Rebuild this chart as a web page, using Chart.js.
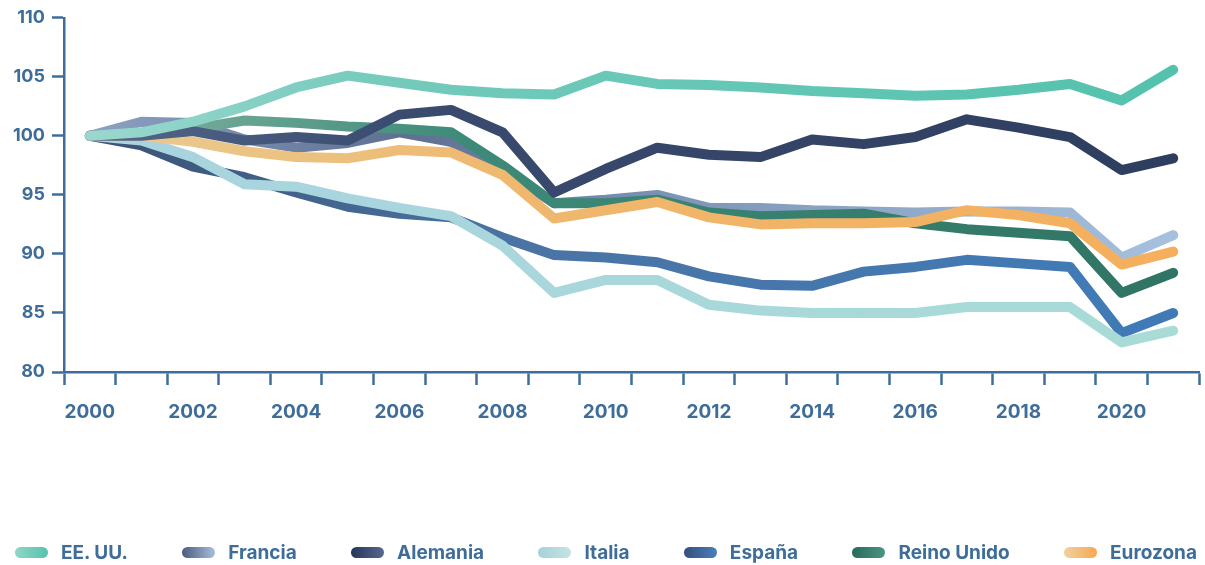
<html>
<head>
	<meta charset="utf-8">
	<title>PIB relativo</title>
	<script src="https://cdn.jsdelivr.net/npm/chart.js@4.4.1/dist/chart.umd.min.js"></script>
	<style>
		body { margin: 0; background: #ffffff; }
		#chart { position: relative; width: 1205px; height: 565px; }
		#leyenda {
			position: absolute; left: 15px; right: 8px; top: 541px; height: 22px;
			display: flex; justify-content: space-between; align-items: center;
			font-family: Inter, "Liberation Sans", Arial, sans-serif;
			font-weight: bold; font-size: 19px; color: #3f6d99;
		}
		.item { display: flex; align-items: center; white-space: nowrap; }
		.muestra { width: 33px; height: 11px; border-radius: 6px; margin-right: 13px; }
	</style>
</head>
<body>
	<div id="chart">
		<canvas id="myChart"></canvas>
		<div id="leyenda"></div>
	</div>

	<script>

		// ---------------------------------------------------------------
		// Datos (base 2000 = 100)
		// ---------------------------------------------------------------
		var anios = ['2000','2001','2002','2003','2004','2005','2006','2007','2008','2009','2010',
			'2011','2012','2013','2014','2015','2016','2017','2018','2019','2020','2021'];

		var nombres = ['EE. UU.', 'Francia', 'Alemania', 'Italia', 'España', 'Reino Unido', 'Eurozona'];

		var eeuu     = [100, 100.3, 101.2, 102.5, 104.1, 105.1, 104.5, 103.9, 103.6, 103.5, 105.1, 104.4, 104.3, 104.1, 103.8, 103.6, 103.4, 103.5, 103.9, 104.4, 103.0, 105.6];
		var francia  = [100, 101.2, 101.1, 99.7, 99.0, 99.4, 100.3, 99.5, 97.1, 94.3, 94.6, 95.0, 93.9, 93.9, 93.7, 93.6, 93.5, 93.6, 93.6, 93.5, 89.7, 91.6];
		var alemania = [100, 100.0, 100.4, 99.6, 99.9, 99.6, 101.8, 102.2, 100.3, 95.2, 97.2, 99.0, 98.4, 98.2, 99.7, 99.3, 99.9, 101.4, 100.7, 99.9, 97.1, 98.1];
		var italia   = [100, 99.6, 98.2, 95.9, 95.7, 94.7, 93.9, 93.2, 90.7, 86.7, 87.8, 87.8, 85.7, 85.2, 85.0, 85.0, 85.0, 85.5, 85.5, 85.5, 82.5, 83.5];
		var espana   = [100, 99.2, 97.4, 96.5, 95.2, 94.0, 93.4, 93.1, 91.4, 89.9, 89.7, 89.3, 88.1, 87.4, 87.3, 88.5, 88.9, 89.5, 89.2, 88.9, 83.3, 85.0];
		var reino    = [100, 100.1, 100.6, 101.3, 101.1, 100.8, 100.6, 100.3, 97.5, 94.3, 94.3, 94.6, 93.5, 93.2, 93.3, 93.4, 92.6, 92.1, 91.8, 91.5, 86.7, 88.4];
		var eurozona = [100, 100.0, 99.5, 98.7, 98.2, 98.1, 98.8, 98.6, 96.7, 93.0, 93.7, 94.4, 93.1, 92.5, 92.6, 92.6, 92.7, 93.7, 93.3, 92.6, 89.1, 90.2];

		var series = [eeuu, francia, alemania, italia, espana, reino, eurozona];

		// ---------------------------------------------------------------
		// Estilos
		// ---------------------------------------------------------------
		var azul = '#3f6d99';
		var fuente = 'Inter, "Liberation Sans", Arial, sans-serif';

		// degradados de izquierda a derecha para cada línea
		var degradados = [
			[[0, '#9dd8d0'], [0.3, '#72cabb'], [1, '#52c2ad']],
			[[0, '#90a6c6'], [0.3, '#5f6f92'], [0.55, '#7f96b8'], [1, '#a8c3e0']],
			[[0, '#56688c'], [0.3, '#3a4b70'], [1, '#2c3d5e']],
			[[0, '#a9d3e0'], [1, '#a8dcd6']],
			[[0, '#3a5072'], [0.4, '#4a74a4'], [1, '#3f7bb8']],
			[[0, '#8ab8a8'], [0.35, '#3e8a78'], [1, '#2f7363']],
			[[0, '#e8cc94'], [0.4, '#efb86e'], [1, '#f5ae5c']]
		];

		// muestras de la leyenda (también en degradado)
		var muestras = [
			['#8fd6c8', '#55c3ae'],
			['#4c5c7c', '#a6bedc'],
			['#26365a', '#56698e'],
			['#a6d0da', '#c4e4e2'],
			['#34507a', '#4a7fbc'],
			['#2a6a5a', '#4a9584'],
			['#f1d1a0', '#f6a850']
		];

		// orden de dibujo (menor = encima)
		var ordenDibujo = [0, 6, 1, 4, 5, 3, 2];

		function colorLinea(i) {
			return function(context) {
				var chart = context.chart;
				var area = chart.chartArea;
				if (!area) return degradados[i][0][1];
				var g = chart.ctx.createLinearGradient(area.left, 0, area.right, 0);
				degradados[i].forEach(function(p) { g.addColorStop(p[0], p[1]); });
				return g;
			};
		}

		var datasets = [];
		for (var i = 0; i < series.length; i++) {
			datasets.push({
				label: nombres[i],
				data: series[i],
				borderColor: colorLinea(i),
				borderWidth: 10,
				borderCapStyle: 'round',
				borderJoinStyle: 'round',
				pointRadius: 0,
				tension: 0,
				fill: false,
				order: ordenDibujo[i]
			});
		}

		// ---------------------------------------------------------------
		// Gráfico
		// ---------------------------------------------------------------
		var ctx = document.getElementById('myChart').getContext('2d');
		var chart = new Chart(ctx, {
			type: 'line',
			data: {
				labels: anios,
				datasets: datasets
			},
			options: {
				responsive: true,
				maintainAspectRatio: false,
				animation: false,
				layout: {
					padding: { top: 8, right: 6, bottom: 0, left: 0 }
				},
				scales: {
					x: {
						type: 'category',
						offset: true,
						grid: {
							offset: true,
							drawOnChartArea: false,
							drawTicks: true,
							tickLength: 13,
							tickColor: azul,
							tickWidth: 2.5
						},
						border: { display: true, color: azul, width: 2.5 },
						ticks: {
							autoSkip: false,
							maxRotation: 0,
							padding: 16,
							color: azul,
							font: { family: fuente, size: 19, weight: 'bold' },
							callback: function(v, idx) {
								return idx % 2 === 0 ? anios[idx] : '';
							}
						},
						afterFit: function(scale) { scale.height = 193; }
					},
					y: {
						min: 80,
						max: 110,
						grid: {
							drawOnChartArea: false,
							drawTicks: true,
							tickLength: 12,
							tickColor: azul,
							tickWidth: 2.5
						},
						border: { display: true, color: azul, width: 2.5 },
						ticks: {
							stepSize: 5,
							padding: 7,
							color: azul,
							font: { family: fuente, size: 18, weight: 'bold' }
						},
						afterFit: function(scale) { scale.width = 64; }
					}
				},
				plugins: {
					tooltip: { enabled: false },
					legend: { display: false }
				}
			}
		});

		// ---------------------------------------------------------------
		// Leyenda en HTML
		// ---------------------------------------------------------------
		var leyenda = document.getElementById('leyenda');
		for (var k = 0; k < nombres.length; k++) {
			var item = document.createElement('div');
			item.className = 'item';
			var m = document.createElement('span');
			m.className = 'muestra';
			m.style.background = 'linear-gradient(to right, ' + muestras[k][0] + ', ' + muestras[k][1] + ')';
			var t = document.createElement('span');
			t.textContent = nombres[k];
			item.appendChild(m);
			item.appendChild(t);
			leyenda.appendChild(item);
		}

	</script>
</body>
</html>
